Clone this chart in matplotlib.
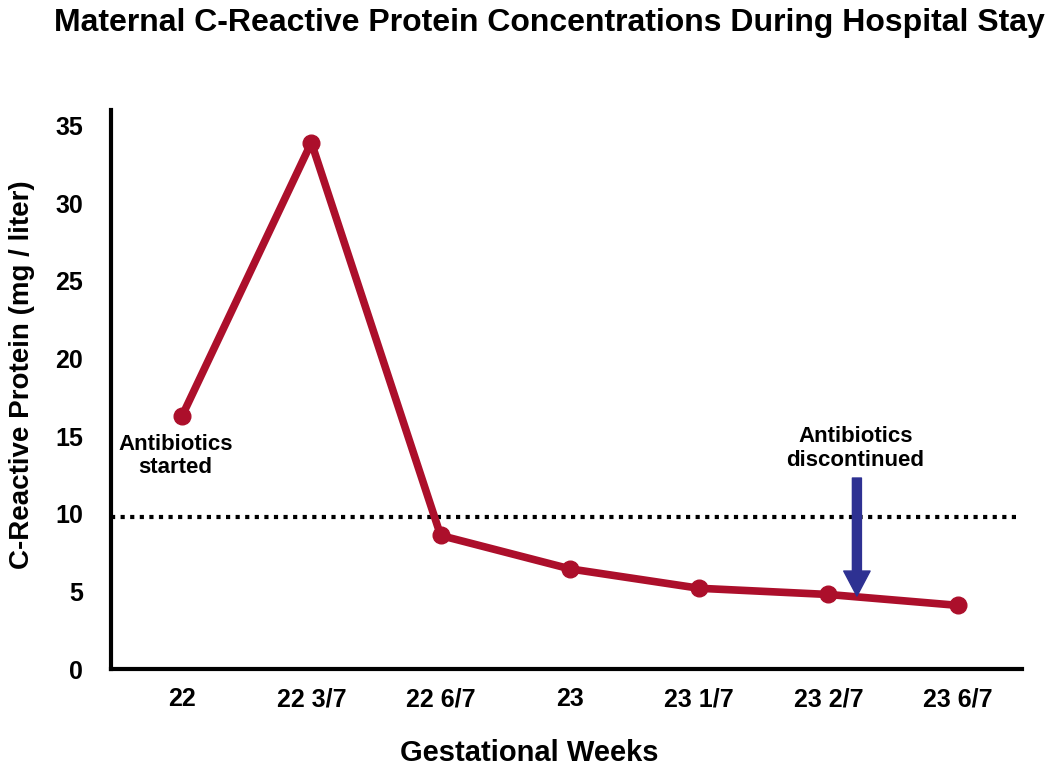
import matplotlib.pyplot as plt
import matplotlib

matplotlib.rcParams["font.family"] = ["Liberation Sans", "DejaVu Sans"]
matplotlib.rcParams["font.weight"] = "bold"

# データ
weeks = ["22", "22 3/7", "22 6/7", "23", "23 1/7", "23 2/7", "23 6/7"]
crp = [16.3, 33.9, 8.6, 6.45, 5.2, 4.8, 4.1]
y_ticks = [0, 5, 10, 15, 20, 25, 30, 35]
threshold = 9.8
arrow_pos = 5.22
arrow_top = 12.3
arrow_tip = 4.7

line_color = "#AC0F2B"
arrow_color = "#2E3192"

fig = plt.figure(figsize=(10.5, 7.69), dpi=100)
ax = fig.add_axes([0.1057, 0.130, 0.868, 0.727])

x = list(range(len(weeks)))
ax.plot(x, crp, color=line_color, lw=5.5, marker="o", markersize=12,
        solid_capstyle="round", solid_joinstyle="round", zorder=3)

ax.plot([-0.55, 6.45], [threshold, threshold], color="black", lw=3,
        ls=(0, (1.0, 1.3)), dash_capstyle="butt", zorder=2)

ax.annotate("", xy=(arrow_pos, arrow_tip), xytext=(arrow_pos, arrow_top),
            arrowprops=dict(arrowstyle="simple,head_width=1.9,head_length=1.8,tail_width=0.65",
                            color=arrow_color, shrinkA=0, shrinkB=0,
                            mutation_scale=10), zorder=4)

ax.text(-0.05, 13.7, "Antibiotics\nstarted", ha="center", va="center",
        fontsize=16, fontweight="bold", linespacing=1.15)
ax.text(arrow_pos - 0.01, 14.2, "Antibiotics\ndiscontinued", ha="center", va="center",
        fontsize=16, fontweight="bold", linespacing=1.15)

ax.set_xlim(-0.55, 6.5)
ax.set_ylim(0, 36)
ax.set_xticks(x)
ax.set_xticklabels(weeks)
ax.set_yticks(y_ticks)
ax.tick_params(length=0, labelsize=18)
ax.tick_params(axis="x", pad=13)
ax.tick_params(axis="y", pad=20)
for lab in ax.get_xticklabels() + ax.get_yticklabels():
    lab.set_fontweight("bold")

for side in ["top", "right"]:
    ax.spines[side].set_visible(False)
for side in ["left", "bottom"]:
    ax.spines[side].set_linewidth(3)

ax.set_xlabel("Gestational Weeks", fontsize=21, fontweight="bold")
ax.xaxis.set_label_coords(0.459, -0.125)
ax.set_ylabel("C-Reactive Protein (mg / liter)", fontsize=20, fontweight="bold")
ax.yaxis.set_label_coords(-0.083, 0.526)

fig.suptitle("Maternal C-Reactive Protein Concentrations During Hospital Stay",
             fontsize=23, fontweight="bold", x=0.523, y=0.99)

fig.savefig("out.png", dpi=100)
